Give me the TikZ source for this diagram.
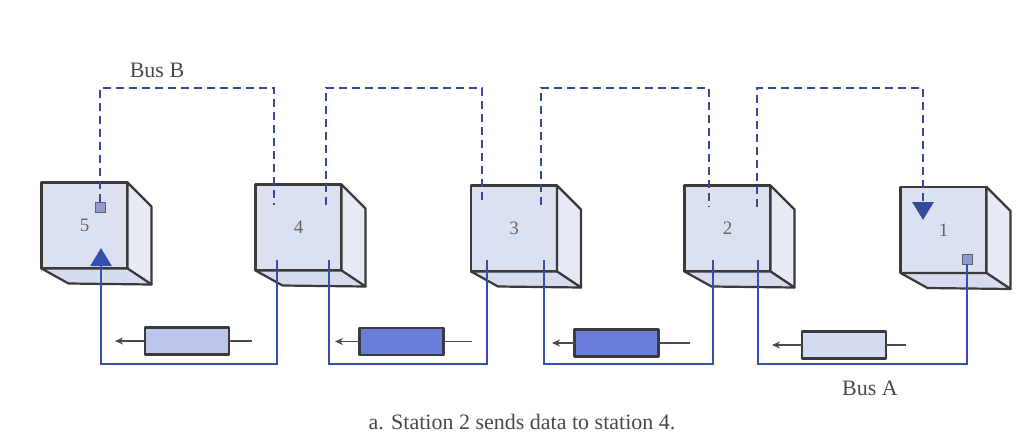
\documentclass[tikz,border=0pt]{standalone}
\usepackage{fontspec}
\setmainfont{Liberation Serif}
\usetikzlibrary{arrows.meta,calc}
\definecolor{busblue}{HTML}{3350AE}
\definecolor{dashblue}{HTML}{36499A}
\definecolor{facefill}{HTML}{DCE1F2}
\definecolor{sidefill}{HTML}{E7EAF5}
\definecolor{botfill}{HTML}{D6DBEE}
\definecolor{edgegrey}{HTML}{3A3A3A}
\definecolor{txtgrey}{HTML}{4A4A4A}
\definecolor{pktlight}{HTML}{BCC6EC}
\definecolor{pktdark}{HTML}{6B7DDA}
\definecolor{pktpale}{HTML}{D3DAF1}
\definecolor{tapfill}{HTML}{8E9BCF}
\newcommand\cubesides[1]{%
  \draw[edge,fill=sidefill] (#1.north east) -- ++(24,24) -- ++(0,78) -- (#1.south east) -- cycle;
  \draw[edge,fill=botfill] (#1.south west) -- (#1.south east) -- ++(24,16) -- ($(#1.south west)+(27,15)$) -- cycle;}
\begin{document}
\begin{tikzpicture}[x=1pt,y=-1pt,
  edge/.style={draw=edgegrey,line width=2.2pt,line join=round},
  face/.style={edge,fill=facefill,minimum width=86pt,minimum height=86pt,inner sep=0pt,outer sep=0pt,
    font=\fontsize{19}{19}\selectfont,text=txtgrey!85},
  tap/.style={draw=edgegrey!80,fill=tapfill,line width=1pt,minimum size=10pt,inner sep=0pt,outer sep=0pt},
  busA/.style={draw=busblue,line width=2.8pt},
  busB/.style={draw=dashblue,line width=2.8pt,dash pattern=on 8pt off 5pt},
  bigtip/.style={-{Triangle[length=18pt,width=21pt]}},
  pkt/.style={edge,line width=2.6pt,minimum width=84pt,minimum height=27pt,inner sep=0pt,outer sep=0pt},
  pktline/.style={draw=txtgrey,line width=1.3pt},
  lbl/.style={text=txtgrey,font=\fontsize{22}{22}\selectfont},
]
\fill[white] (0,0) rectangle (1026,437);
\useasboundingbox (0,0) rectangle (1026,437);

% stations (front faces)
\node[face] (s5) at (84.5,225.5) {5};
\node[face] (s4) at (298.5,227.5) {4};
\node[face] (s3) at (514,228.5) {3};
\node[face] (s2) at (727.5,228.5) {2};
\node[face] (s1) at (943.5,230) {1};
\cubesides{s5}
\cubesides{s4}
\cubesides{s3}
\cubesides{s2}
\cubesides{s1}

% taps
\node[tap] (q5) at (100,207) {};
\node[tap] (q1) at (967,259) {};

\coordinate (top) at (0,88);
\coordinate (bot) at (0,364);
\coordinate (B4l) at (274,205);
\coordinate (B4r) at (326,205);
\coordinate (B3l) at (482,205);
\coordinate (B3r) at (541,205);
\coordinate (B2l) at (709,207);
\coordinate (B2r) at (757,207);
\coordinate (B1) at (923,220);
\coordinate (A5) at (101,248);
\coordinate (A4l) at (277,260);
\coordinate (A4r) at (329,260);
\coordinate (A3l) at (487,260);
\coordinate (A3r) at (544,260);
\coordinate (A2l) at (713,260);
\coordinate (A2r) at (758,260);

% Bus B (dashed)
\draw[busB] (q5.north) |- (B4l|-top) -- (B4l);
\draw[busB] (B4r) |- (B3l|-top) -- (B3l);
\draw[busB] (B3r) |- (B2l|-top) -- (B2l);
\draw[busB,bigtip] (B2r) |- (B1|-top) -- (B1);

% Bus A (solid)
\draw[busA,bigtip] (A4l) -- (A4l|-bot) -| (A5);
\draw[busA] (A4r) -- (A4r|-bot) -| (A3l);
\draw[busA] (A3r) -- (A3r|-bot) -| (A2l);
\draw[busA] (A2r) -- (A2r|-bot) -| (q1.south);

% packets
\node[pkt,fill=pktlight] (p1) at (187,341) {};
\node[pkt,fill=pktdark] (p2) at (401.5,341.5) {};
\node[pkt,fill=pktdark] (p3) at (616.5,343) {};
\node[pkt,fill=pktpale] (p4) at (844,345) {};
\coordinate (p1t) at (252,341);  \coordinate (p1h) at (115,341);
\coordinate (p2t) at (472,341.5); \coordinate (p2h) at (335,341.5);
\coordinate (p3t) at (690,343);  \coordinate (p3h) at (552,343);
\coordinate (p4t) at (906,345);  \coordinate (p4h) at (772,345);
\foreach \i in {1,2,3,4}{
  \draw[pktline] (p\i t) -- (p\i.east);
  \draw[pktline,-{Stealth[length=8pt,width=7pt]}] (p\i.west) -- (p\i h);
}

% labels
\node[lbl] (lb) at (157,70) {Bus B};
\node[lbl] (la) at (870,388) {Bus A};
\node[lbl] (cap) at (522,422) {a. Station 2 sends data to station 4.};
\end{tikzpicture}
\end{document}
